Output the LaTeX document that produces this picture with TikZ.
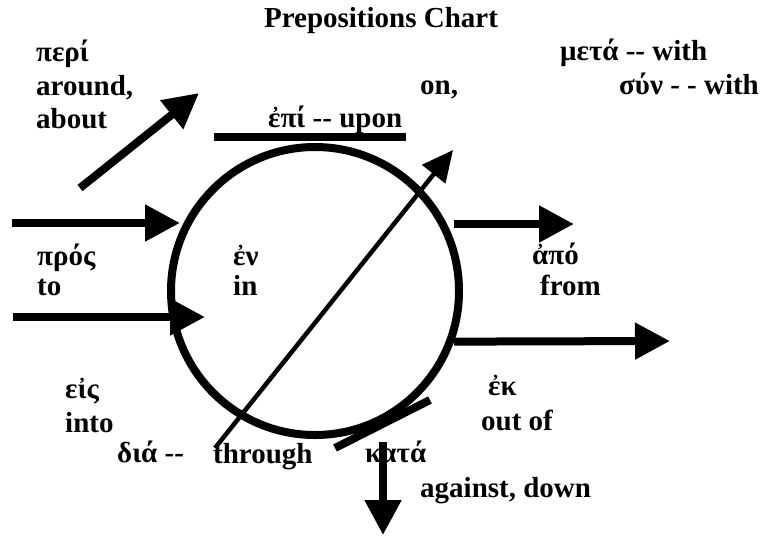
\documentclass[tikz,border=0pt]{standalone}
\usepackage{fontspec}
\setmainfont{Liberation Serif}
\usetikzlibrary{arrows.meta, positioning}
\newcommand\dd{\mbox{-}\mbox{-}}

\begin{document}
\begin{tikzpicture}[x=1pt, y=-1pt,
  lbl/.style={anchor=base west, inner sep=0pt, font=\fontsize{29}{33}\selectfont\bfseries},
  fat/.style={line width=8pt, -{Triangle[length=35pt, width=35pt]}},
  thin/.style={line width=4.5pt, -{Triangle[length=31pt, width=29pt]}},
  bar/.style={line width=8pt}
]
\useasboundingbox (0,0) rectangle (762,536);

% the circle
\node[circle, draw, line width=8pt, minimum size=288pt, inner sep=0pt] (ring) at (315,291) {};

% labels
\node[lbl, anchor=base] (title) at (381,27) {Prepositions Chart};
\node[lbl] (peri) at (36,61) {περί};
\node[lbl] (around) at (36,95) {around,};
\node[lbl] (about) at (36,128) {about};
\node[lbl] (meta) at (560,60) {μετά \dd\ with};
\node[lbl] (on) at (420,94) {on,};
\node[lbl] (syn) at (619,94) {σύν - - with};
\node[lbl] (epi) at (268,127) {ἐπί \dd\ upon};
\node[lbl] (pros) at (37,265) {πρός};
\node[lbl] (to) at (37,295) {to};
\node[lbl] (en) at (233,265) {ἐν};
\node[lbl] (in) at (233,295) {in};
\node[lbl] (apo) at (532,264) {ἀπό};
\node[lbl] (from) at (540,295) {from};
\node[lbl] (eis) at (65,398) {εἰς};
\node[lbl] (into) at (65,432) {into};
\node[lbl] (ek) at (488,395) {ἐκ};
\node[lbl] (outof) at (481,430) {out of};
\node[lbl] (dia) at (117,462) {διά \dd};
\node[lbl] (through) at (213,463) {through};
\node[lbl] (kata) at (365,462) {κατά};
\node[lbl] (against) at (420,497) {against, down};

% arrow ends
\coordinate (periS) at (80,188);
\coordinate (periE) at (199,93);
\coordinate (prosS) at (12,223);
\coordinate (prosE) at (180,223);
\coordinate (inS) at (13,317);
\coordinate (inE) at (205,317);
\coordinate (apoS) at (454,224);
\coordinate (apoE) at (574,224);
\coordinate (ekE) at (670,341);
\coordinate (kataS) at (383,442);
\coordinate (kataE) at (383,535);
\coordinate (diaS) at (215,448);
\coordinate (diaE) at (453,150);
\coordinate (epiL) at (214,137);
\coordinate (epiR) at (406,137);
\coordinate (kataL) at (335,448);
\coordinate (kataR) at (430,400);

\draw[fat] (periS) -- (periE);
\draw[fat] (prosS) -- (prosE);
\draw[fat] (inS) -- (inE);
\draw[fat] (apoS) -- (apoE);
\draw[fat] (ring.-20) -- (ekE);
\draw[fat] (kataS) -- (kataE);
\draw[thin] (diaS) -- (diaE);
\draw[bar] (epiL) -- (epiR);
\draw[bar] (kataL) -- (kataR);
\end{tikzpicture}
\end{document}
